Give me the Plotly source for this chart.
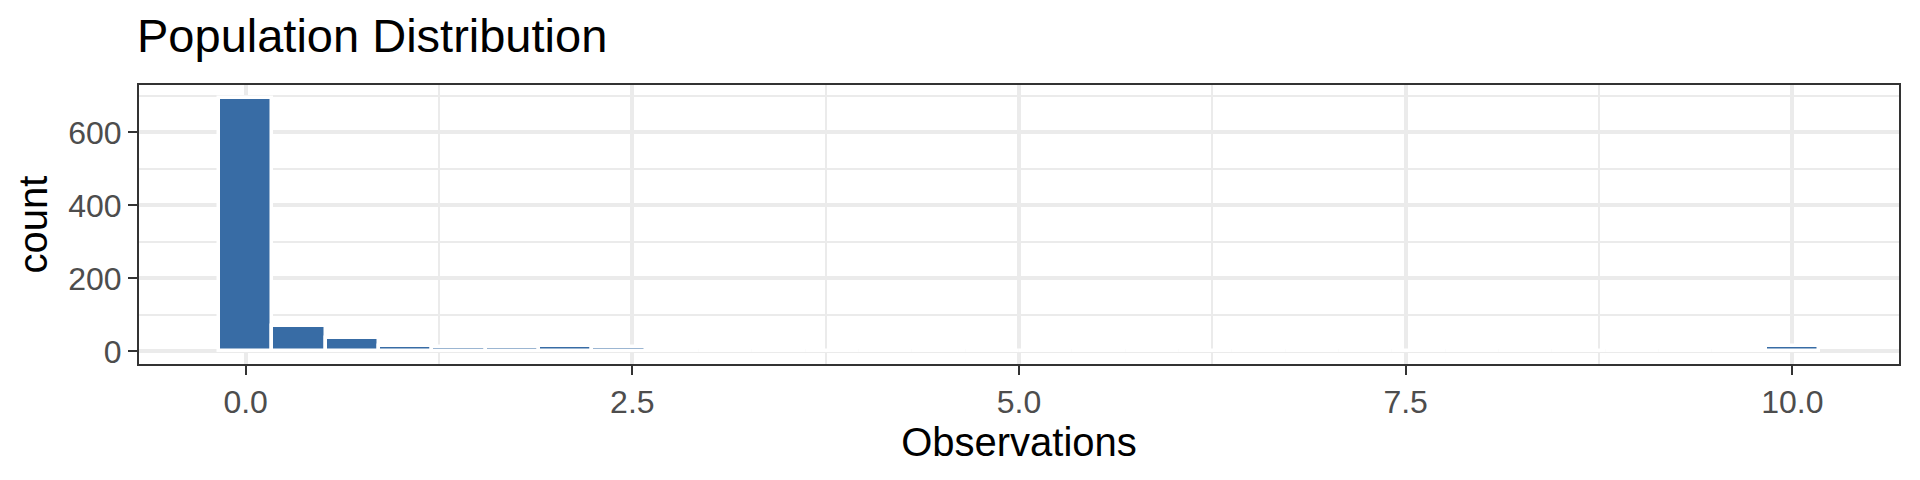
import plotly.graph_objects as go

# ---- data (histogram, 30 bins spanning 0..10) ----
data_min = 0.0
data_max = 10.0
n_bins = 30
counts = [695, 70, 37, 15, 13, 11, 15, 11,
          0, 0, 0, 0, 0, 0, 0, 0, 0, 0, 0, 1,
          1, 0, 1, 1, 0, 0, 1, 1, 1, 15]
x_tick_vals = [0.0, 2.5, 5.0, 7.5, 10.0]
x_tick_text = ["0.0", "2.5", "5.0", "7.5", "10.0"]
y_tick_vals = [0, 200, 400, 600]
y_tick_text = ["0", "200", "400", "600"]

title_text = "Population Distribution"
x_title = "Observations"
y_title = "count"

bin_width = (data_max - data_min) / (n_bins - 1)
centers = [data_min + i * bin_width for i in range(n_bins)]

# ggplot-style 5% expansion
x_lo, x_hi = data_min - bin_width / 2, data_max + bin_width / 2
x_pad = 0.05 * (x_hi - x_lo)
y_max = max(counts)
y_pad = 0.05 * y_max

FONT = "Liberation Sans, Arial, Helvetica, sans-serif"
GRID = "#EBEBEB"
DARK = "#333333"

fig = go.Figure()
fig.add_trace(go.Bar(
    x=centers, y=counts, width=bin_width,
    marker=dict(color="#386CA5", line=dict(color="white", width=3.5)),
    showlegend=False,
))

fig.update_layout(
    width=1920, height=480,
    margin=dict(l=139, r=21, t=85, b=116),
    paper_bgcolor="white", plot_bgcolor="white",
    font=dict(family=FONT, color="black"),
    title=dict(text=title_text, font=dict(size=47, color="black", family=FONT),
               xref="container", x=137/1920, xanchor="left",
               yref="container", y=1 - 19/480, yanchor="top"),
    bargap=0,
)
fig.update_xaxes(
    range=[x_lo - x_pad, x_hi + x_pad],
    tickvals=x_tick_vals, ticktext=x_tick_text,
    tickfont=dict(size=32, color="#4D4D4D", family=FONT),
    ticks="outside", ticklen=9, tickwidth=2, tickcolor=DARK,
    showline=True, mirror=True, linecolor=DARK, linewidth=2,
    showgrid=True, gridcolor=GRID, gridwidth=3.5,
    minor=dict(dtick=1.25, tick0=0, showgrid=True, gridcolor=GRID, gridwidth=1.8),
    zeroline=False, automargin=False,
    title=dict(text=x_title, font=dict(size=40, color="black", family=FONT), standoff=4),
)
fig.update_yaxes(
    range=[-y_pad, y_max + y_pad],
    tickvals=y_tick_vals, ticktext=y_tick_text,
    tickfont=dict(size=32, color="#4D4D4D", family=FONT),
    ticks="outside", ticklen=9, tickwidth=2, tickcolor=DARK,
    showline=True, mirror=True, linecolor=DARK, linewidth=2,
    showgrid=True, gridcolor=GRID, gridwidth=3.5,
    minor=dict(dtick=100, tick0=0, showgrid=True, gridcolor=GRID, gridwidth=1.8),
    zeroline=False, automargin=False,
    title=dict(text=y_title, font=dict(size=40, color="black", family=FONT), standoff=8),
)

fig.write_html("out.html", config={"displayModeBar": False},
               post_script="document.body.style.margin='0';document.body.style.overflow='hidden';")
